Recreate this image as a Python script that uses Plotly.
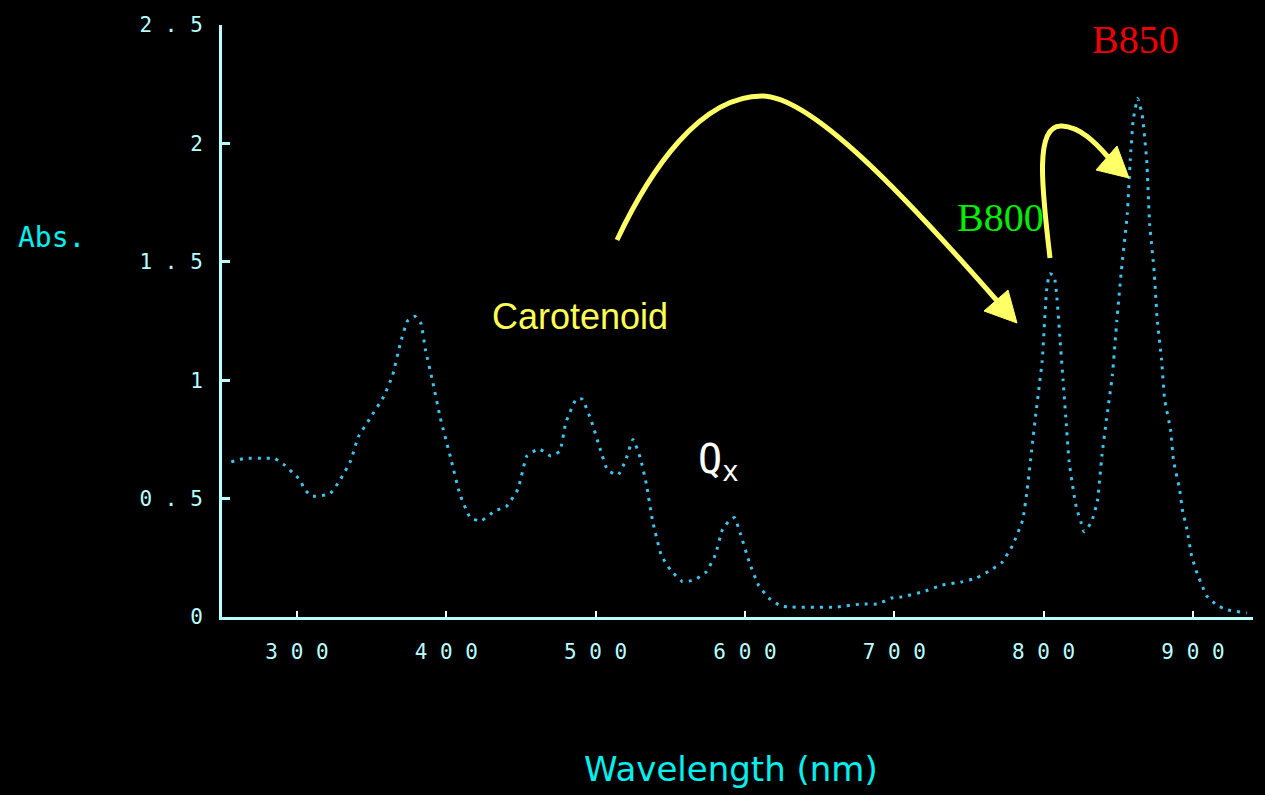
import plotly.graph_objects as go

# ---- data ----
wavelength = [256, 265, 277, 285, 292, 297, 302, 305, 310, 322, 329, 336, 341, 349, 358, 364, 369, 374,
              379, 383, 386, 391, 396, 403, 409, 416, 423, 433, 440, 448, 454, 462, 470, 476, 480, 487,
              491, 497, 503, 508, 515, 520, 525, 530, 534, 538, 544, 550, 558, 566, 574, 580, 585, 590,
              593, 597, 603, 609, 616, 624, 631, 661, 678, 689, 698, 705, 721, 732, 745, 755, 765, 772,
              779, 786, 789, 792, 795, 799, 802, 804, 807, 809, 811, 813, 815, 817, 820, 822, 825, 827,
              832, 836, 839, 842, 846, 849, 852, 856, 858, 860, 863, 866, 869, 871, 874, 876, 879, 881,
              885, 887, 891, 893, 896, 899, 903, 906, 909, 916, 923, 936]
absorbance = [0.655, 0.67, 0.67, 0.67, 0.64, 0.61, 0.58, 0.54, 0.51, 0.52, 0.58, 0.66, 0.76, 0.84, 0.93,
              1.02, 1.15, 1.25, 1.27, 1.24, 1.13, 0.99, 0.84, 0.67, 0.52, 0.42, 0.405, 0.45, 0.465, 0.54,
              0.68, 0.71, 0.68, 0.70, 0.82, 0.92, 0.92, 0.83, 0.71, 0.62, 0.60, 0.66, 0.75, 0.67, 0.56,
              0.41, 0.26, 0.20, 0.15, 0.156, 0.19, 0.26, 0.37, 0.41, 0.42, 0.35, 0.23, 0.135, 0.08,
              0.046, 0.042, 0.042, 0.055, 0.055, 0.08, 0.085, 0.11, 0.135, 0.148, 0.165, 0.20, 0.23,
              0.30, 0.41, 0.54, 0.705, 0.87, 1.08, 1.38, 1.45, 1.44, 1.34, 1.17, 1.0, 0.83, 0.66, 0.53,
              0.46, 0.40, 0.36, 0.40, 0.49, 0.68, 0.83, 1.02, 1.25, 1.46, 1.70, 1.93, 2.10, 2.19, 2.12,
              1.93, 1.66, 1.46, 1.26, 1.085, 0.92, 0.79, 0.66, 0.54, 0.45, 0.37, 0.26, 0.18, 0.135, 0.09,
              0.05, 0.03, 0.017]

x_ticks = [300, 400, 500, 600, 700, 800, 900]
x_ticktext = ["3 0 0", "4 0 0", "5 0 0", "6 0 0", "7 0 0", "8 0 0", "9 0 0"]
y_ticks = [0, 0.5, 1, 1.5, 2, 2.5]
y_ticktext = ["0", "0 . 5", "1", "1 . 5", "2", "2 . 5"]

X_RANGE = [249.8, 940.2]
Y_RANGE = [0, 2.5]

# layout geometry (pixels)
W, H = 1265, 795
L, R, T, B = 222, 12, 25, 178
PW, PH = W - L - R, H - T - B


def P(px, py):
    """pixel position -> data coordinate string for decorative shapes"""
    x = X_RANGE[0] + (px - L) / PW * (X_RANGE[1] - X_RANGE[0])
    y = Y_RANGE[0] + (H - B - py) / PH * (Y_RANGE[1] - Y_RANGE[0])
    return f"{x:.2f},{y:.4f}"


def ax(px):
    return (px - L) / PW


def ay(py):
    return (H - B - py) / PH


AXIS_COL = "#b8ffff"
YEL = "#ffff66"

fig = go.Figure()
fig.add_trace(go.Scatter(
    x=wavelength, y=absorbance, mode="lines",
    line=dict(color="#3cc3ee", width=3, dash="3px,6px", shape="spline", smoothing=0.4),
    hoverinfo="skip", showlegend=False,
))

shapes = [
    # arrow 1 (Carotenoid -> B800)
    dict(type="path", xref="x", yref="y",
         path=f"M {P(617,240)} C {P(650,170)} {P(700,96)} {P(762,96)} C {P(810,96)} {P(900,190)} {P(999,303)}",
         line=dict(color=YEL, width=5)),
    dict(type="path", xref="x", yref="y",
         path=f"M {P(984,311)} L {P(1008,290)} L {P(1017,323)} Z",
         line=dict(color=YEL, width=1), fillcolor=YEL),
    # arrow 2 (B800 -> B850)
    dict(type="path", xref="x", yref="y",
         path=f"M {P(1050,258)} C {P(1042,190)} {P(1034,124)} {P(1062,126)} C {P(1080,127)} {P(1095,142)} {P(1108,157)}",
         line=dict(color=YEL, width=5)),
    dict(type="path", xref="x", yref="y",
         path=f"M {P(1096,170)} L {P(1117,146)} L {P(1129,178)} Z",
         line=dict(color=YEL, width=1), fillcolor=YEL),
]


def label(text, px, py, family, size, color):
    return dict(text=text, xref="paper", yref="paper", x=ax(px), y=ay(py),
                xanchor="center", yanchor="middle", showarrow=False,
                font=dict(family=family, size=size, color=color))


annotations = [
    label("Abs.", 51, 237, "DejaVu Sans Mono", 28, "#00f0f0"),
    label("Wavelength (nm)", 731, 769, "DejaVu Sans", 34, "#00f0f0"),
    label("Carotenoid", 580, 316, "Liberation Sans", 36, "#ffff55"),
    label("Q<sub>x</sub>", 718, 462, "DejaVu Sans Mono", 40, "#ffffff"),
    label("B800", 1000, 217, "Liberation Serif", 40, "#00ee00"),
    label("B850", 1135, 40, "Liberation Serif", 40, "#ee0000"),
]

fig.update_layout(
    width=W, height=H,
    margin=dict(l=L, r=R, t=T, b=B, pad=0),
    paper_bgcolor="black", plot_bgcolor="black",
    shapes=shapes, annotations=annotations,
    xaxis=dict(range=X_RANGE, tickvals=x_ticks, ticktext=x_ticktext, showgrid=False, zeroline=False,
               showline=True, linecolor=AXIS_COL, linewidth=3, ticks="inside", ticklen=6,
               tickcolor="#ffffff", tickwidth=2, ticklabelstandoff=14,
               tickfont=dict(family="DejaVu Sans Mono", size=21, color=AXIS_COL)),
    yaxis=dict(range=Y_RANGE, tickvals=y_ticks, ticktext=y_ticktext, showgrid=False, zeroline=False,
               showline=True, linecolor=AXIS_COL, linewidth=3, ticks="inside", ticklen=8,
               tickcolor=AXIS_COL, tickwidth=3, ticklabelstandoff=12,
               tickfont=dict(family="DejaVu Sans Mono", size=21, color=AXIS_COL)),
)

fig.write_html(
    "out.html",
    config={"displayModeBar": False},
    post_script="document.body.style.margin='0';document.body.style.background='black';",
)
